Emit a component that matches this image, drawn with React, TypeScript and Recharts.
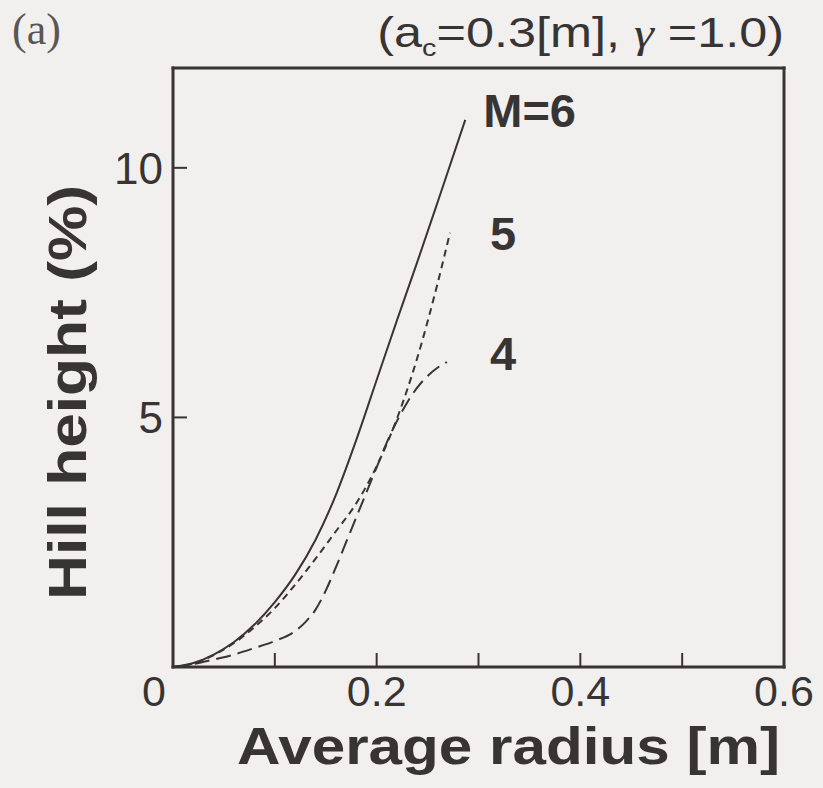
import React from "react";
import { Line, LineChart, XAxis, YAxis } from "recharts";

// axis ticks
const xTicks = [0, 0.1, 0.2, 0.3, 0.4, 0.5, 0.6];
const xTickLabels = ["0", "", "0.2", "", "0.4", "", "0.6"];
const yTicks = [0, 5, 10];
const yTickLabels = ["", "5", "10"];

// M = 6 (solid)
const radiusM6 = [0, 0.02, 0.04, 0.06, 0.08, 0.1, 0.12, 0.14, 0.16, 0.18, 0.2, 0.22, 0.24, 0.26, 0.287];
const heightM6 = [0, 0.08, 0.25, 0.5, 0.85, 1.3, 1.85, 2.55, 3.45, 4.55, 5.75, 6.95, 8.12, 9.32, 10.96];

// M = 5 (short dash)
const radiusM5 = [0, 0.02, 0.04, 0.06, 0.08, 0.1, 0.12, 0.14, 0.16, 0.18, 0.2, 0.22, 0.24, 0.26, 0.272];
const heightM5 = [0, 0.07, 0.24, 0.48, 0.8, 1.18, 1.65, 2.17, 2.72, 3.28, 4.02, 4.98, 6.2, 7.7, 8.7];

// M = 4 (long dash)
const radiusM4 = [0, 0.02, 0.04, 0.06, 0.08, 0.1, 0.12, 0.13, 0.14, 0.15, 0.16, 0.17, 0.18, 0.19, 0.2, 0.21, 0.22, 0.23, 0.24, 0.25, 0.26, 0.269];
const heightM4 = [0, 0.06, 0.15, 0.25, 0.38, 0.52, 0.72, 0.9, 1.15, 1.53, 2.0, 2.5, 3.0, 3.5, 4.0, 4.5, 4.93, 5.3, 5.6, 5.83, 6.0, 6.11];

const toPoints = (rs: number[], hs: number[]) => rs.map((r, i) => ({ r, h: hs[i] }));

const W = 823;
const H = 788;
const INK = "#383434";
const BG = "#f1f0ee";
const SANS = "'Liberation Sans', Arial, Helvetica, sans-serif";
const TICK_LEN = 14;

function BottomTick(props: any) {
	const { x, y, payload } = props;
	const i = xTicks.indexOf(payload.value);
	const inner = i > 0 && i < xTicks.length - 1;
	const label = xTickLabels[i];
	return (
		<g>
			{inner && <line x1={x} x2={x} y1={y} y2={y - TICK_LEN} stroke={INK} strokeWidth={2} />}
			{label && (
				<text x={i === 0 ? x - 19 : x} y={y + 39} textAnchor="middle" fontSize={43} fill={INK} fontFamily={SANS}>
					{label}
				</text>
			)}
		</g>
	);
}

function TopTick(props: any) {
	const { x, y, payload } = props;
	const i = xTicks.indexOf(payload.value);
	if (i <= 0 || i >= xTicks.length - 1) return <g />;
	return <line x1={x} x2={x} y1={y} y2={y + TICK_LEN} stroke={INK} strokeWidth={2} />;
}

function LeftTick(props: any) {
	const { x, y, payload } = props;
	const i = yTicks.indexOf(payload.value);
	const label = yTickLabels[i];
	if (!label) return <g />;
	return (
		<g>
			<line x1={x} x2={x + TICK_LEN} y1={y} y2={y} stroke={INK} strokeWidth={2} />
			<text x={x - 10} y={y + 16} textAnchor="end" fontSize={44} fill={INK} fontFamily={SANS}>
				{label}
			</text>
		</g>
	);
}

function RightTick(props: any) {
	const { x, y, payload } = props;
	const i = yTicks.indexOf(payload.value);
	if (!yTickLabels[i]) return <g />;
	return <line x1={x} x2={x - TICK_LEN} y1={y} y2={y} stroke={INK} strokeWidth={2} />;
}

// curve name written just past the last point of each line
function endLabel(text: string, count: number, dx: number, dy: number) {
	return (props: any) => {
		const px = props.x ?? props.viewBox?.x;
		const py = props.y ?? props.viewBox?.y;
		if (props.index !== count - 1 || px == null) return null;
		return (
			<text x={px + dx} y={py + dy} fontSize={47} fontWeight="bold" fill={INK} fontFamily={SANS}>
				{text}
			</text>
		);
	};
}

const frame = { stroke: INK, strokeWidth: 3, strokeLinecap: "square" as const };

export default function App() {
	return (
		<div style={{ position: "relative", width: W, height: H, background: BG, overflow: "hidden" }}>
			<style>{`html,body{margin:0;background:${BG};}`}</style>
			<LineChart width={W} height={H} margin={{ top: 67, right: 38, bottom: 120, left: 172 }}>
				<XAxis
					xAxisId="b"
					type="number"
					dataKey="r"
					domain={[0, 0.6]}
					ticks={xTicks}
					interval={0}
					height={1}
					axisLine={frame}
					tickLine={false}
					tickSize={0}
					tickMargin={0}
					tick={BottomTick}
				/>
				<XAxis
					xAxisId="t"
					orientation="top"
					type="number"
					dataKey="r"
					domain={[0, 0.6]}
					ticks={xTicks}
					interval={0}
					height={1}
					axisLine={frame}
					tickLine={false}
					tickSize={0}
					tickMargin={0}
					tick={TopTick}
				/>
				<YAxis
					yAxisId="l"
					type="number"
					domain={[0, 12]}
					ticks={yTicks}
					interval={0}
					width={1}
					axisLine={frame}
					tickLine={false}
					tickSize={0}
					tickMargin={0}
					tick={LeftTick}
				/>
				<YAxis
					yAxisId="r"
					orientation="right"
					type="number"
					domain={[0, 12]}
					ticks={yTicks}
					interval={0}
					width={1}
					axisLine={frame}
					tickLine={false}
					tickSize={0}
					tickMargin={0}
					tick={RightTick}
				/>
				<Line
					xAxisId="b"
					yAxisId="l"
					data={toPoints(radiusM6, heightM6)}
					dataKey="h"
					type="monotone"
					stroke={INK}
					strokeWidth={2}
					dot={false}
					isAnimationActive={false}
					label={endLabel("M=6", radiusM6.length, 18, 7)}
				/>
				<Line
					xAxisId="b"
					yAxisId="l"
					data={toPoints(radiusM5, heightM5)}
					dataKey="h"
					type="monotone"
					stroke={INK}
					strokeWidth={2}
					strokeDasharray="7 5"
					dot={false}
					isAnimationActive={false}
					label={endLabel("5", radiusM5.length, 40, 17)}
				/>
				<Line
					xAxisId="b"
					yAxisId="l"
					data={toPoints(radiusM4, heightM4)}
					dataKey="h"
					type="monotone"
					stroke={INK}
					strokeWidth={2}
					strokeDasharray="15 7"
					dot={false}
					isAnimationActive={false}
					label={endLabel("4", radiusM4.length, 43, 8)}
				/>
			</LineChart>
			<svg width={W} height={H} style={{ position: "absolute", left: 0, top: 0, pointerEvents: "none" }}>
				<text x={12} y={44} fontSize={44} fill="#5a5656" fontFamily="'Liberation Serif', 'DejaVu Serif', serif">
					(a)
				</text>
				<g transform="translate(784,47) scale(1.2,1)">
					<text x={0} y={0} textAnchor="end" fontSize={42} fill={INK} fontFamily={SANS}>
						(a
						<tspan fontSize={24} dy={9}>c</tspan>
						<tspan dy={-9}>=0.3[m], </tspan>
						<tspan fontStyle="italic" fontFamily="'Liberation Serif', serif">γ</tspan>
						<tspan> =1.0)</tspan>
					</text>
				</g>
				<text
					x={237}
					y={764}
					fontSize={52}
					fontWeight="bold"
					fill={INK}
					fontFamily={SANS}
					textLength={543}
					lengthAdjust="spacingAndGlyphs"
				>
					Average radius [m]
				</text>
				<text
					transform="translate(86,600) rotate(-90)"
					x={0}
					y={0}
					fontSize={54}
					fontWeight="bold"
					fill={INK}
					fontFamily={SANS}
					textLength={415}
					lengthAdjust="spacingAndGlyphs"
				>
					Hill height (%)
				</text>
			</svg>
		</div>
	);
}
